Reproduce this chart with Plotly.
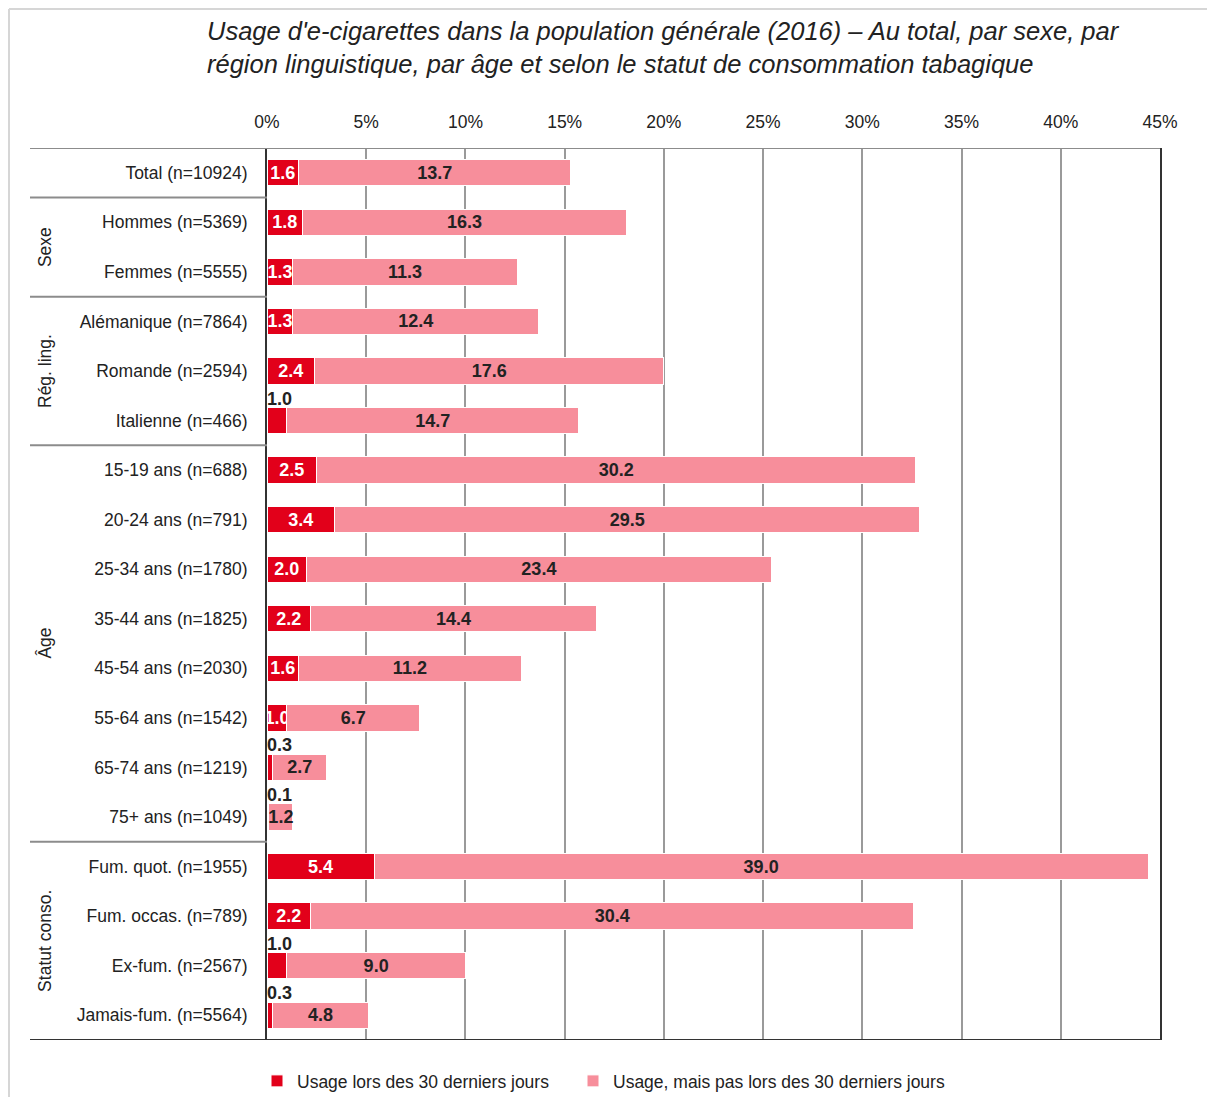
import plotly.graph_objects as go

# ---------------- data ----------------
categories = [
    "Total (n=10924)",
    "Hommes (n=5369)", "Femmes (n=5555)",
    "Alémanique (n=7864)", "Romande (n=2594)", "Italienne (n=466)",
    "15-19 ans (n=688)", "20-24 ans (n=791)", "25-34 ans (n=1780)",
    "35-44 ans (n=1825)", "45-54 ans (n=2030)", "55-64 ans (n=1542)",
    "65-74 ans (n=1219)", "75+ ans (n=1049)",
    "Fum. quot. (n=1955)", "Fum. occas. (n=789)", "Ex-fum. (n=2567)",
    "Jamais-fum. (n=5564)",
]
usage_30j = [1.6, 1.8, 1.3, 1.3, 2.4, 1.0, 2.5, 3.4, 2.0, 2.2, 1.6, 1.0, 0.3, 0.1, 5.4, 2.2, 1.0, 0.3]
usage_pas_30j = [13.7, 16.3, 11.3, 12.4, 17.6, 14.7, 30.2, 29.5, 23.4, 14.4, 11.2, 6.7, 2.7, 1.2, 39.0, 30.4, 9.0, 4.8]
series_names = ["Usage lors des 30 derniers jours", "Usage, mais pas lors des 30 derniers jours"]
groups = [("Sexe", 1, 2), ("Rég. ling.", 3, 5), ("Âge", 6, 13), ("Statut conso.", 14, 17)]
x_ticks = [0, 5, 10, 15, 20, 25, 30, 35, 40, 45]
title_lines = [
    "Usage d'e-cigarettes dans la population générale (2016) – Au total, par sexe, par",
    "région linguistique, par âge et selon le statut de consommation tabagique",
]
labels_above = {"Italienne (n=466)", "65-74 ans (n=1219)", "75+ ans (n=1049)",
                "Ex-fum. (n=2567)", "Jamais-fum. (n=5564)"}

# ---------------- style ----------------
OFF = 8  # page body margin
W, H = 1215, 1130
L, T = 267 - OFF, 148 - OFF
R = W - (1160 - OFF)
B = H - (1040 - OFF)
PW, PH = W - L - R, H - T - B
FONT = "Liberation Sans, Arial, sans-serif"
RED = "#E2001A"
PINK = "#F78E9B"
TXT = "#222222"


def px_x(p):
    """screen x pixel -> paper x"""
    return (p - OFF - L) / PW


def px_y(p):
    """screen y pixel -> paper y"""
    return (H - B - (p - OFF)) / PH


fig = go.Figure()
fig.add_trace(go.Bar(
    y=categories, x=usage_30j, orientation="h", name=series_names[0],
    marker=dict(color=RED, line=dict(color="white", width=1)),
    text=["" if c in labels_above else f"{v:.1f}" for c, v in zip(categories, usage_30j)],
    textposition="inside", insidetextanchor="middle", textangle=0,
    constraintext="none",
    textfont=dict(family=FONT, size=18, color="white", weight="bold"),
    hoverinfo="skip", legend="legend",
))
fig.add_trace(go.Bar(
    y=categories, x=usage_pas_30j, orientation="h", name=series_names[1],
    marker=dict(color=PINK, line=dict(color="white", width=1)),
    text=[f"{v:.1f}" for v in usage_pas_30j],
    textposition="inside", insidetextanchor="middle", textangle=0,
    constraintext="none",
    textfont=dict(family=FONT, size=18, color=TXT, weight="bold"),
    hoverinfo="skip", legend="legend2",
))

annotations = []
for c, v in zip(categories, usage_30j):
    if c in labels_above:
        annotations.append(dict(
            x=0, y=c, xref="x", yref="y", text=f"{v:.1f}", showarrow=False,
            xanchor="left", yanchor="middle", yshift=22, xshift=-2,
            font=dict(family=FONT, size=18, color=TXT, weight="bold"),
        ))

for name, i0, i1 in groups:
    annotations.append(dict(
        x=px_x(45), y=(i0 + i1) / 2, xref="paper", yref="y", text=name,
        showarrow=False, textangle=-90, xanchor="center", yanchor="middle",
        font=dict(family=FONT, size=17.5, color=TXT),
    ))

for line, yc in zip(title_lines, [31, 64]):
    annotations.append(dict(
        x=px_x(205), y=px_y(yc), xref="paper", yref="paper", text=line,
        showarrow=False, xanchor="left", yanchor="middle",
        font=dict(family=FONT, size=25.5, color=TXT, style="italic"),
    ))

shapes = []
# group separators on the left
for yv in [0.5, 2.5, 5.5, 13.5]:
    shapes.append(dict(type="line", xref="paper", yref="y", x0=px_x(30), x1=0,
                       y0=yv, y1=yv, line=dict(color="#8c8c8c", width=2)))
# top and bottom borders
shapes.append(dict(type="line", xref="paper", yref="y", x0=px_x(30), x1=1,
                   y0=-0.5, y1=-0.5, line=dict(color="#8c8c8c", width=2)))
shapes.append(dict(type="line", xref="paper", yref="y", x0=px_x(30), x1=1,
                   y0=17.5, y1=17.5, line=dict(color="#333333", width=2)))
# page frame
shapes.append(dict(type="line", xref="paper", yref="paper", x0=px_x(9), x1=px_x(W + OFF),
                   y0=px_y(9), y1=px_y(9), line=dict(color="#d6d6d6", width=2)))
shapes.append(dict(type="line", xref="paper", yref="paper", x0=px_x(9), x1=px_x(9),
                   y0=px_y(9), y1=px_y(H + OFF), line=dict(color="#d6d6d6", width=2)))

legend_common = dict(orientation="h", xanchor="left", yanchor="top",
                     font=dict(family=FONT, size=17.5, color=TXT),
                     itemwidth=30, bgcolor="rgba(0,0,0,0)")

fig.update_layout(
    width=W, height=H,
    margin=dict(l=L, r=R, t=T, b=B, autoexpand=False),
    barmode="stack", bargap=0.47,
    paper_bgcolor="white", plot_bgcolor="white",
    font=dict(family=FONT, size=17.5, color=TXT),
    showlegend=True,
    legend=dict(x=px_x(257), y=px_y(1063), **legend_common),
    legend2=dict(x=px_x(573), y=px_y(1063), **legend_common),
    annotations=annotations,
    shapes=shapes,
)
fig.update_xaxes(
    side="top", range=[0, 45], tickvals=x_ticks,
    ticktext=[f"{t}%" for t in x_ticks],
    showgrid=True, gridcolor="#9a9a9a", gridwidth=2,
    zeroline=False, showline=False,
    ticks="outside", ticklen=12, tickcolor="rgba(0,0,0,0)",
    tickfont=dict(family=FONT, size=17.5, color=TXT),
    fixedrange=True,
)
fig.update_yaxes(
    categoryorder="array", categoryarray=categories,
    range=[17.5, -0.5],
    showline=True, linecolor="#333333", linewidth=2, mirror=True,
    showgrid=False, zeroline=False,
    ticks="outside", ticklen=14, tickcolor="rgba(0,0,0,0)",
    tickfont=dict(family=FONT, size=17.5, color=TXT),
    fixedrange=True,
)

fig.write_html("out.html")
